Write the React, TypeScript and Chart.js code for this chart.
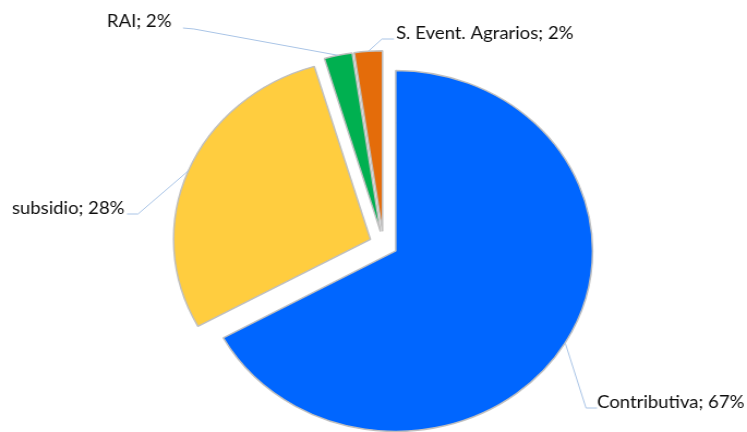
import React, { useEffect, useRef } from 'react';
import { Chart, registerables } from 'chart.js';

Chart.register(...registerables);

// ---- data ----
const categories = ['Contributiva', 'subsidio', 'RAI', 'S. Event. Agrarios'];
const values = [67.0, 28.4, 2.3, 2.3];
const percentLabels = ['67%', '28%', '2%', '2%'];
const sliceColors = ['#0066FF', '#FFCD3F', '#00B050', '#E46C0A'];

// ---- layout / style (not data) ----
const CANVAS_W = 685;
const CANVAS_H = 432;
const SX = 747 / CANVAS_W; // horizontal stretch of the original picture
const EXPLODE = 13;
const FONT = '17px Lato, "Open Sans", sans-serif';
const LEADER = '#A9C4E6';

// label text left x, baseline y, leader elbow and leader end (page px)
const labelLayout = [
  { tx: 597, ty: 408, elbow: [586, 408], end: [597, 408] },
  { tx: 12, ty: 214, elbow: [138, 214], end: [127, 214] },
  { tx: 107, ty: 27, elbow: [194, 29], end: [183, 28] },
  { tx: 396, ty: 39, elbow: [382, 39], end: [394, 39] },
];

const explodePlugin = {
  id: 'explode',
  afterDatasetsUpdate(chart: any) {
    const meta = chart.getDatasetMeta(0);
    meta.data.forEach((arc: any) => {
      const mid = (arc.startAngle + arc.endAngle) / 2;
      arc.x += Math.cos(mid) * EXPLODE;
      arc.y += Math.sin(mid) * EXPLODE;
    });
  },
};

const labelPlugin = {
  id: 'pieLabels',
  afterDatasetsDraw(chart: any) {
    const ctx = chart.ctx;
    const meta = chart.getDatasetMeta(0);
    ctx.save();
    meta.data.forEach((arc: any, i: number) => {
      const mid = (arc.startAngle + arc.endAngle) / 2;
      const ax = arc.x + Math.cos(mid) * arc.outerRadius;
      const ay = arc.y + Math.sin(mid) * arc.outerRadius;
      const L = labelLayout[i];
      ctx.beginPath();
      ctx.strokeStyle = LEADER;
      ctx.lineWidth = 1;
      ctx.moveTo(ax, ay);
      ctx.lineTo(L.elbow[0] / SX, L.elbow[1]);
      ctx.lineTo(L.end[0] / SX, L.end[1]);
      ctx.stroke();
      ctx.fillStyle = '#0d0d0d';
      ctx.font = FONT;
      ctx.textAlign = 'left';
      ctx.textBaseline = 'alphabetic';
      ctx.fillText(`${categories[i]}; ${percentLabels[i]}`, L.tx / SX, L.ty);
    });
    ctx.restore();
  },
};

export default function App() {
  const ref = useRef<HTMLCanvasElement | null>(null);
  useEffect(() => {
    if (!ref.current) return;
    const chart = new Chart(ref.current, {
      type: 'pie',
      data: {
        labels: categories,
        datasets: [
          {
            data: values,
            backgroundColor: sliceColors,
            borderColor: '#BFBFBF',
            borderWidth: 1.5,
          },
        ],
      },
      options: {
        responsive: false,
        animation: false,
        events: [],
        layout: { padding: { left: 170.45, top: 63.05, right: 152.05, bottom: 6.45 } },
        plugins: {
          legend: { display: false },
          tooltip: { enabled: false },
          title: { display: false },
        },
      },
      plugins: [explodePlugin, labelPlugin],
    });
    return () => chart.destroy();
  }, []);
  return (
    <div
      style={{
        position: 'fixed',
        left: 0,
        top: 0,
        width: 747,
        height: 432,
        overflow: 'hidden',
        background: '#ffffff',
      }}
    >
      <canvas
        ref={ref}
        width={CANVAS_W}
        height={CANVAS_H}
        style={{
          width: CANVAS_W,
          height: CANVAS_H,
          transform: `scaleX(${SX})`,
          transformOrigin: '0 0',
          display: 'block',
        }}
      />
    </div>
  );
}
